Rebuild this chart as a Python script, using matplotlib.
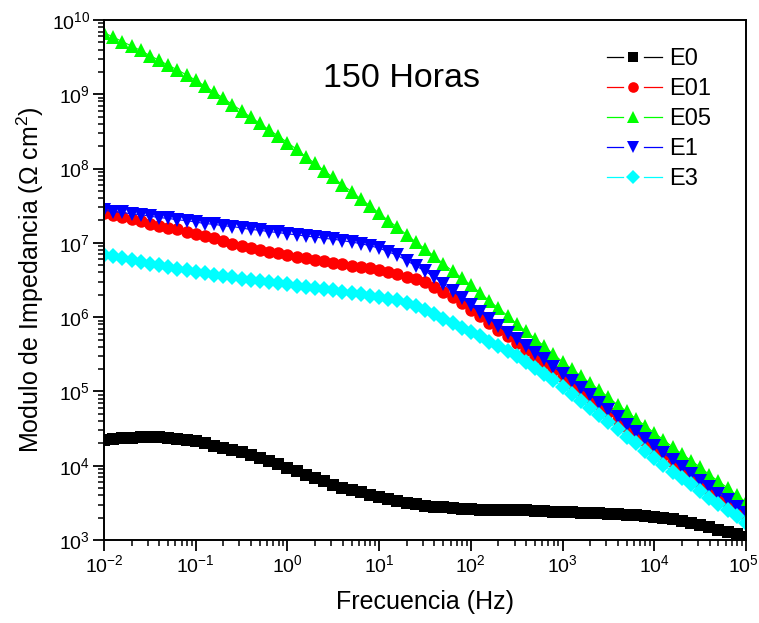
import numpy as np
import matplotlib
matplotlib.use("Agg")
import matplotlib.pyplot as plt
import matplotlib.transforms as mtransforms
from matplotlib.lines import Line2D
from matplotlib.legend_handler import HandlerBase
from matplotlib.ticker import LogLocator, LogFormatterSciNotation, NullFormatter

plt.rcParams['font.family'] = ['Liberation Sans', 'DejaVu Sans']
plt.rcParams['mathtext.fontset'] = 'custom'
plt.rcParams['mathtext.rm'] = 'Liberation Sans'
plt.rcParams['mathtext.it'] = 'Liberation Sans:italic'
plt.rcParams['mathtext.default'] = 'regular'
plt.rcParams['axes.unicode_minus'] = False

# frequency grid: 10 points per decade, 1e-2 .. 1e5 Hz
freq = np.logspace(-2, 5, 71)

# log10 |Z| (ohm cm^2), low -> high frequency
logZ_E0 = [4.35, 4.36, 4.37, 4.37, 4.38, 4.38, 4.38, 4.37, 4.36, 4.35, 4.33,
           4.30, 4.27, 4.24, 4.21, 4.18, 4.14, 4.10, 4.06, 4.02, 3.97,
           3.93, 3.88, 3.84, 3.79, 3.74, 3.70, 3.67, 3.64, 3.61, 3.58,
           3.55, 3.52, 3.50, 3.48, 3.46, 3.45, 3.44, 3.43, 3.42, 3.42,
           3.41, 3.41, 3.41, 3.40, 3.40, 3.40, 3.39, 3.39, 3.38, 3.38,
           3.38, 3.37, 3.37, 3.36, 3.35, 3.35, 3.34, 3.33, 3.32, 3.31,
           3.30, 3.28, 3.26, 3.23, 3.20, 3.17, 3.14, 3.11, 3.08, 3.04]
logZ_E01 = [7.40, 7.37, 7.35, 7.32, 7.29, 7.26, 7.23, 7.20, 7.18, 7.15, 7.12,
            7.09, 7.06, 7.02, 6.99, 6.96, 6.93, 6.91, 6.88, 6.86, 6.83,
            6.81, 6.79, 6.77, 6.75, 6.73, 6.71, 6.69, 6.68, 6.66, 6.64,
            6.61, 6.58, 6.54, 6.51, 6.47, 6.41, 6.34, 6.27, 6.19, 6.10,
            6.01, 5.92, 5.83, 5.74, 5.65, 5.56, 5.47, 5.38, 5.29, 5.20,
            5.10, 5.01, 4.91, 4.82, 4.72, 4.62, 4.52, 4.43, 4.33, 4.23,
            4.14, 4.05, 3.95, 3.86, 3.77, 3.68, 3.59, 3.50, 3.41, 3.32]
logZ_E05 = [9.83, 9.77, 9.71, 9.65, 9.59, 9.52, 9.46, 9.39, 9.33, 9.26, 9.19,
            9.11, 9.03, 8.95, 8.86, 8.78, 8.69, 8.61, 8.52, 8.44, 8.35,
            8.26, 8.16, 8.07, 7.97, 7.88, 7.78, 7.69, 7.59, 7.50, 7.40,
            7.30, 7.21, 7.11, 7.01, 6.92, 6.82, 6.72, 6.62, 6.53, 6.43,
            6.33, 6.22, 6.12, 6.02, 5.91, 5.81, 5.71, 5.61, 5.50, 5.40,
            5.30, 5.21, 5.11, 5.02, 4.92, 4.82, 4.73, 4.63, 4.54, 4.44,
            4.35, 4.25, 4.16, 4.07, 3.98, 3.88, 3.79, 3.70, 3.60, 3.51]
logZ_E1 = [7.44, 7.42, 7.41, 7.39, 7.38, 7.36, 7.34, 7.33, 7.31, 7.30, 7.28,
           7.26, 7.25, 7.23, 7.22, 7.20, 7.18, 7.17, 7.15, 7.14, 7.12,
           7.11, 7.09, 7.08, 7.06, 7.05, 7.03, 7.01, 6.99, 6.96, 6.93,
           6.88, 6.83, 6.76, 6.69, 6.62, 6.54, 6.45, 6.35, 6.26, 6.16,
           6.07, 5.98, 5.88, 5.79, 5.70, 5.61, 5.52, 5.43, 5.33, 5.24,
           5.14, 5.04, 4.95, 4.85, 4.75, 4.65, 4.55, 4.46, 4.36, 4.26,
           4.17, 4.08, 3.98, 3.89, 3.80, 3.71, 3.62, 3.54, 3.45, 3.36]
logZ_E3 = [6.84, 6.82, 6.79, 6.77, 6.74, 6.72, 6.70, 6.67, 6.65, 6.63, 6.61,
           6.59, 6.57, 6.55, 6.54, 6.52, 6.50, 6.49, 6.47, 6.46, 6.44,
           6.42, 6.41, 6.39, 6.38, 6.36, 6.34, 6.33, 6.31, 6.29, 6.27,
           6.25, 6.23, 6.19, 6.15, 6.10, 6.04, 5.98, 5.92, 5.86, 5.80,
           5.74, 5.67, 5.61, 5.55, 5.48, 5.40, 5.32, 5.23, 5.15, 5.06,
           4.97, 4.87, 4.78, 4.68, 4.59, 4.49, 4.39, 4.30, 4.20, 4.10,
           4.01, 3.92, 3.83, 3.75, 3.66, 3.57, 3.49, 3.40, 3.32, 3.23]

series_names = ['E0', 'E01', 'E05', 'E1', 'E3']
series_data = [logZ_E0, logZ_E01, logZ_E05, logZ_E1, logZ_E3]
series_colors = ['#000000', '#FF0000', '#00FF00', '#0000FF', '#00FFFF']
series_markers = ['s', 'o', '^', 'v', 'D']
series_msize = [8.5, 9.0, 10.0, 10.0, 7.8]


class OriginHandler(HandlerBase):
    """Line - gap - marker - gap - line, as in Origin legends."""
    def create_artists(self, legend, orig_handle, xdescent, ydescent,
                       width, height, fontsize, trans):
        y = height / 2.0 - ydescent
        x0 = -xdescent
        c = orig_handle.get_color()
        l1 = Line2D([x0, x0 + 0.29 * width], [y, y], color=c, lw=0.9)
        l2 = Line2D([x0 + 0.67 * width, x0 + width], [y, y], color=c, lw=0.9)
        mk = Line2D([x0 + 0.48 * width], [y], ls='none',
                    marker=orig_handle.get_marker(), color=c,
                    markersize=orig_handle.get_markersize() * 0.85,
                    markeredgewidth=0)
        for a in (l1, l2, mk):
            a.set_transform(trans)
        return [l1, l2, mk]


W, H = 759, 623
fig = plt.figure(figsize=(W / 100, H / 100), dpi=100)
ax = fig.add_axes([104 / W, 1 - 540 / H, 642 / W, 520 / H])

lines = []
for name, lz, c, m, ms in zip(series_names, series_data, series_colors,
                              series_markers, series_msize):
    z = 10 ** np.asarray(lz)
    ln, = ax.plot(freq, z, color=c, lw=0.8, marker=m, markersize=ms,
                  markeredgewidth=0, markerfacecolor=c, label=name)
    lines.append(ln)

ax.set_xscale('log')
ax.set_yscale('log')
ax.set_xlim(1e-2, 1e5)
ax.set_ylim(1e3, 1e10)

for axis in (ax.xaxis, ax.yaxis):
    axis.set_major_locator(LogLocator(base=10, numticks=20))
    axis.set_minor_locator(LogLocator(base=10, subs=np.arange(2, 10), numticks=20))
    axis.set_minor_formatter(NullFormatter())
    axis.set_major_formatter(LogFormatterSciNotation())

ax.tick_params(which='major', direction='out', length=8, width=1.3,
               labelsize=14, pad=2, top=False, right=False)
ax.tick_params(which='minor', direction='out', length=4.5, width=1.1,
               top=False, right=False)
for sp in ax.spines.values():
    sp.set_linewidth(1.4)

ax.set_xlabel('Frecuencia (Hz)', fontsize=18, labelpad=10)
ax.set_ylabel('Modulo de Impedancia (Ω cm$^2$)', fontsize=18, labelpad=4)

ax.text(0.463, 0.872, '150 Horas', transform=ax.transAxes, fontsize=24.5,
        ha='center', va='baseline')

leg = ax.legend(lines, series_names, handler_map={Line2D: OriginHandler()},
                loc='upper left', bbox_to_anchor=(0.783, 0.946), frameon=False,
                fontsize=17, handlelength=2.33, handletextpad=0.3,
                labelspacing=0.34, borderpad=0, borderaxespad=0)

# keep the last x tick label (10^5) inside the picture
fig.canvas.draw()
xlabels = ax.get_xticklabels()
for lab in xlabels:
    if lab.get_text() and '5' in lab.get_text().split('^')[-1]:
        lab.set_transform(lab.get_transform() +
                          mtransforms.ScaledTranslation(-3 / 100, 0, fig.dpi_scale_trans))

fig.savefig('out.png', dpi=100)
